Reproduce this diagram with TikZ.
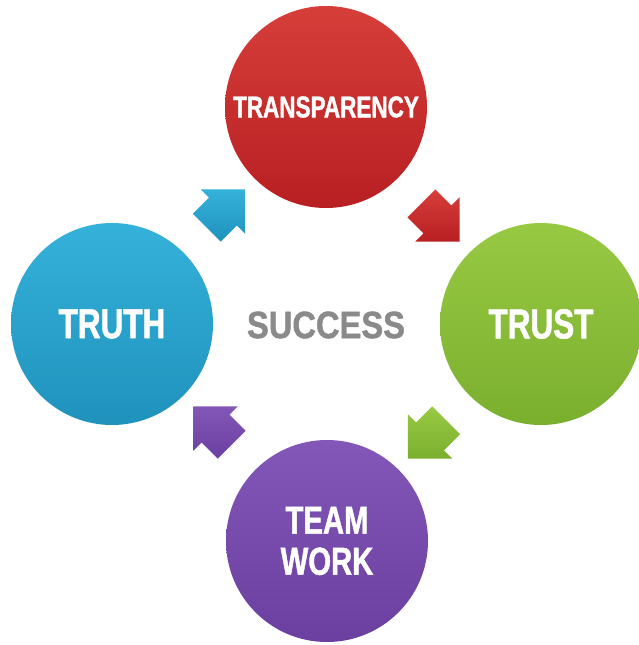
\documentclass[tikz,border=0pt]{standalone}
\usepackage{fontspec}
\setmainfont{Liberation Sans}
\newfontfamily\tagfont{Liberation Sans}[FakeStretch=0.75, BoldFeatures={FakeBold=1.2}]
\newfontfamily\hubfont{Liberation Sans}[FakeStretch=0.86, BoldFeatures={FakeBold=1.2}]
\usetikzlibrary{calc,shapes.arrows}

\definecolor{redtop}{HTML}{D63E3A}
\definecolor{redbot}{HTML}{B81F22}
\definecolor{greentop}{HTML}{98C943}
\definecolor{greenbot}{HTML}{7AAF2E}
\definecolor{purptop}{HTML}{8257B8}
\definecolor{purpbot}{HTML}{6A3F9F}
\definecolor{bluetop}{HTML}{35B2DA}
\definecolor{bluebot}{HTML}{1F92BC}
\definecolor{hubgray}{HTML}{8A8A8A}

\tikzset{
  ball/.style={circle, minimum size=202pt, inner sep=0pt, text=white, align=center,
    font=\tagfont\bfseries\fontsize{42}{41}\selectfont},
  flow/.style={single arrow, draw=none, inner xsep=0pt, inner ysep=19.5pt,
    minimum height=54pt, single arrow head extend=11.5pt, single arrow tip angle=90},
}

\begin{document}
\begin{tikzpicture}[x=1pt,y=-1pt]
	%%%%% START %%%%%
	
	\path[use as bounding box, fill=white] (0,0) rectangle (639,645);
	
	% the four circles
	\node[ball, top color=redtop, bottom color=redbot, font=\tagfont\bfseries\fontsize{30}{30}\selectfont] (transp) at (326,107) {TRANSPARENCY};
	\node[ball, top color=greentop, bottom color=greenbot] (trust) at (541,324) {TRUST};
	\node[ball, top color=purptop, bottom color=purpbot, font=\tagfont\bfseries\fontsize{39}{41}\selectfont] (team) at (327,541) {TEAM\\WORK};
	\node[ball, top color=bluetop, bottom color=bluebot] (truth) at (112,324) {TRUTH};
	
	\node[text=hubgray, font=\hubfont\bfseries\fontsize{38}{38}\selectfont] (success) at (326,325) {SUCCESS};
	
	% block arrows, clockwise
	\node[flow, top color=redtop, bottom color=redbot, rotate=-45] (ar1) at ($(transp)!0.5!(trust)$) {};
	\node[flow, top color=greentop, bottom color=greenbot, rotate=-135] (ar2) at ($(trust)!0.5!(team)$) {};
	\node[flow, top color=purptop, bottom color=purpbot, rotate=135] (ar3) at ($(team)!0.5!(truth)$) {};
	\node[flow, top color=bluetop, bottom color=bluebot, rotate=45] (ar4) at ($(truth)!0.5!(transp)$) {};
	
	%%%%% END %%%%%
\end{tikzpicture}
\end{document}
